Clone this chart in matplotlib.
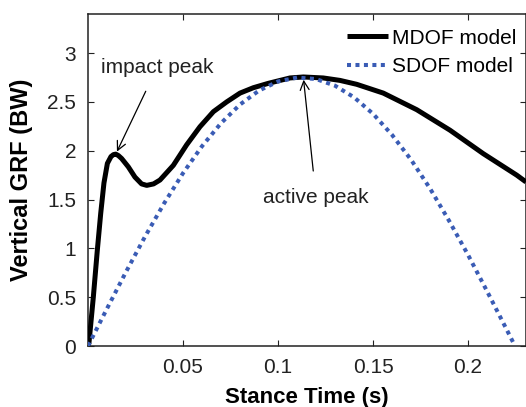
import numpy as np
import matplotlib
matplotlib.use("Agg")
import matplotlib.pyplot as plt

plt.rcParams["font.family"] = ["Liberation Sans", "DejaVu Sans"]

# ── data ──────────────────────────────────────────────────────────────────────
mdof_t = [0.0, 0.0005, 0.0028, 0.0049, 0.0067, 0.0084, 0.0102, 0.0121, 0.0134,
          0.0146, 0.016, 0.0177, 0.0212, 0.0247, 0.0282, 0.0309, 0.0345, 0.0379,
          0.0449, 0.0519, 0.0589, 0.066, 0.073, 0.080, 0.087, 0.0949, 0.1063,
          0.1133, 0.1238, 0.1326, 0.1414, 0.1554, 0.173, 0.1905, 0.208, 0.2256,
          0.2305]
mdof_f = [0.0, 0.03, 0.50, 0.98, 1.36, 1.67, 1.87, 1.94, 1.96,
          1.965, 1.95, 1.92, 1.835, 1.73, 1.66, 1.645, 1.66, 1.70,
          1.85, 2.06, 2.245, 2.40, 2.50, 2.59, 2.645, 2.69, 2.745,
          2.755, 2.745, 2.72, 2.68, 2.59, 2.42, 2.21, 1.97, 1.75,
          1.68]

sdof_t = [0.0, 0.01, 0.02, 0.03, 0.04, 0.05, 0.06, 0.07, 0.08, 0.09, 0.10, 0.11,
          0.12, 0.13, 0.14, 0.15, 0.16, 0.17, 0.18, 0.19, 0.20, 0.21, 0.22, 0.2247]
sdof_f = [0.0, 0.383, 0.759, 1.120, 1.459, 1.770, 2.046, 2.282, 2.473, 2.616,
          2.709, 2.749, 2.734, 2.666, 2.547, 2.378, 2.162, 1.908, 1.613, 1.283,
          0.933, 0.561, 0.181, 0.0]

x_ticks = [0.05, 0.1, 0.15, 0.2]
x_tick_labels = ["0.05", "0.1", "0.15", "0.2"]
y_ticks = [0, 0.5, 1, 1.5, 2, 2.5, 3]
y_tick_labels = ["0", "0.5", "1", "1.5", "2", "2.5", "3"]

impact_pt = (0.0146, 1.965)
active_pt = (0.1133, 2.755)

# ── figure ────────────────────────────────────────────────────────────────────
fig = plt.figure(figsize=(5.26, 4.07), dpi=100)
ax = fig.add_axes([88 / 526, 61 / 407, 1 - 88 / 526, 332 / 407])

ax.plot(mdof_t, mdof_f, color="black", lw=3.6, solid_capstyle="butt",
        solid_joinstyle="round", label="MDOF model", zorder=3)
ax.plot(sdof_t, sdof_f, color="#3a5cb5", lw=2.9, linestyle=(0, (1, 1.1)),
        dash_capstyle="butt", label="SDOF model", zorder=4)

ax.set_xlim(0, 0.2305)
ax.set_ylim(0, 3.4)
ax.set_xticks(x_ticks)
ax.set_xticklabels(x_tick_labels)
ax.set_yticks(y_ticks)
ax.set_yticklabels(y_tick_labels)
ax.tick_params(direction="in", length=4, width=0.8, top=True, right=True,
               labelsize=15, colors="#222222", pad=8.5)
for s in ax.spines.values():
    s.set_linewidth(1.1)
    s.set_color("#222222")

ax.set_xlabel("Stance Time (s)", fontsize=16, fontweight="bold", labelpad=7)
ax.set_ylabel("Vertical GRF (BW)", fontsize=17, fontweight="bold", labelpad=10)

ax.annotate("impact peak", xy=impact_pt, xytext=(0.0363, 2.85),
            fontsize=15, ha="center", va="center", color="#222222",
            arrowprops=dict(arrowstyle="->", color="black", lw=0.9,
                            mutation_scale=16, shrinkA=9, shrinkB=2))
ax.annotate("active peak", xy=active_pt, xytext=(0.12, 1.525),
            fontsize=15, ha="center", va="center", color="#222222",
            arrowprops=dict(arrowstyle="->", color="black", lw=0.9,
                            mutation_scale=16, shrinkA=10, shrinkB=2))

ax.legend(loc="upper right", frameon=False, fontsize=15, handlelength=2.0,
          handletextpad=0.15, labelspacing=0.45, borderaxespad=0.0,
          bbox_to_anchor=(0.996, 0.981))

fig.savefig("out.png", dpi=100)
